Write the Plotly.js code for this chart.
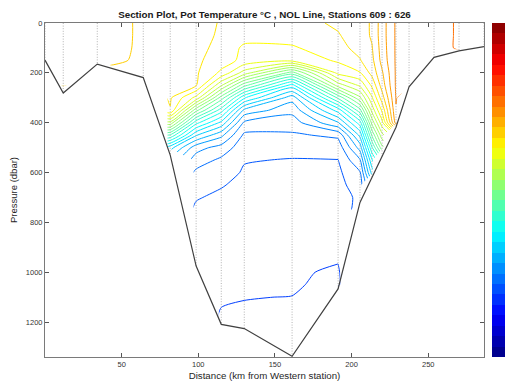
<!DOCTYPE html>
<html><head><meta charset="utf-8">
<script src="https://cdn.plot.ly/plotly-3.0.1.min.js"></script>
<style>html,body{margin:0;padding:0;background:#fff}#chart{width:505px;height:389px}</style>
</head><body><div id="chart"></div>
<script>
// Station distances (km from western station), stations 609..626
const stationIds = [609,610,611,612,613,614,615,616,617,618,619,620,621,622,623,624,625,626];
const stationKm = [0,11.9,34.1,64.1,81.7,98.6,115.0,130.0,161.2,191.2,205.5,213.3,219.9,229.0,237.5,253.8,270.1,286.4];
// Bottom pressure at each station (dbar)
const bottomDbar = [149,281,165,219,530,975,1209,1226,1337,1067,720,618,535,418,256,138,112,95];
// Pressure levels of the gridded profiles (dbar)
const pressure = [0,50,100,150,200,250,300,350,400,450,500,550,600,650,700,800,900,1000,1050,1100,1200,1250,1300];
// Potential temperature profiles (°C), one per station, down to the bottom
const t609 = [4.38,4.38,4.38];
const t610 = [4.38,4.38,4.38,4.38,4.38,4.38];
const t611 = [4.38,4.38,4.38,4.38];
const t612 = [4.341,4.341,4.34,4.335,4.33];
const t613 = [4.25,4.25,4.25,4.24,4.24,4.23,4.22,4.19,3.55,2.83,2.16];
const t614 = [4.25,4.25,4.24,4.23,4.22,4.21,3.85,3.2,2.6,2.115,1.71,1.575,1.47,1.41,1.358,1.305,1.283];
const t615 = [4.19,4.18,4.16,4.12,4.02,3.62,3.08,2.62,2.21,1.84,1.59,1.47,1.41,1.358,1.328,1.29,1.26,1.23,1.218,1.207,1.19];
const t616 = [4.15,4.11,4.02,4.01,3.68,3.05,2.42,1.91,1.62,1.47,1.41,1.358,1.335,1.32,1.305,1.275,1.245,1.223,1.212,1.2015,1.19];
const t617 = [4.15,4.12,4.03,3.95,3.08,2.34,1.86,1.695,1.575,1.478,1.395,1.343,1.32,1.305,1.29,1.275,1.245,1.215,1.208,1.199,1.19,1.185,1.18];
const t618 = [4.22,4.19,4.15,4.07,3.95,3.52,2.88,2.31,1.935,1.53,1.41,1.347,1.32,1.305,1.29,1.26,1.23,1.185,1.18];
const t619 = [4.28,4.27,4.25,4.19,4.04,3.78,3.42,2.95,2.48,2.14,1.86,1.635,1.485,1.425,1.38];
const t620 = [4.37,4.37,4.34,4.31,4.25,4.08,3.88,3.65,3.35,3.02,2.68,2.38,2.16];
const t621 = [4.58,4.58,4.57,4.55,4.48,4.42,4.28,4.08,3.85,3.55,3.25];
const t622 = [4.82,4.82,4.82,4.82,4.82,4.82,4.81,4.79,4.72];
const t623 = [4.85,4.85,4.85,4.85,4.85,4.85];
const t624 = [4.88,4.88,4.88];
const t625 = [4.97,4.97,4.97];
const t626 = [4.98,4.98];
const profiles = [t609,t610,t611,t612,t613,t614,t615,t616,t617,t618,t619,t620,t621,t622,t623,t624,t625,t626];

const titleText = 'Section Plot, Pot Temperature °C , NOL Line, Stations 609 : 626';
const xTitle = 'Distance (km from Western station)';
const yTitle = 'Pressure (dbar)';
const xTicks = [50,100,150,200,250];
const yTicks = [0,200,400,600,800,1000,1200];
const cMin = 0, cMax = 6.45, cStep = 0.15;

// ---- build ----
function jet(t){
  const c = v => Math.max(0, Math.min(1, v));
  const r = c(1.5 - Math.abs(4*t - 3)), g = c(1.5 - Math.abs(4*t - 2)), b = c(1.5 - Math.abs(4*t - 1));
  return 'rgb(' + Math.round(r*255) + ',' + Math.round(g*255) + ',' + Math.round(b*255) + ')';
}
const jetScale = [0,0.125,0.375,0.625,0.875,1].map(t => [t, jet(t)]);
const nBands = 32, bandScale = [];
for (let k = 0; k < nBands; k++) {
  const col = jet((k + 0.5) / nBands);
  bandScale.push([k / nBands, col]); bandScale.push([(k + 1) / nBands, col]);
}

// Two contour panels sharing the station at 191.2 km (keeps seabed gaps local)
function gridFor(i0, i1) {
  const prof = profiles.slice(i0, i1 + 1);
  return {x: stationKm.slice(i0, i1 + 1),
          z: pressure.map((p, j) => prof.map(pr => (j < pr.length ? pr[j] : null)))};
}
const splitIdx = 9;
const gW = gridFor(0, splitIdx), gE = gridFor(splitIdx, stationKm.length - 1);
function contourTrace(g) {
  return {type:'contour', x:g.x, y:pressure, z:g.z, connectgaps:false,
          colorscale:jetScale, showscale:false, hoverinfo:'skip',
          contours:{coloring:'lines', start:cMin, end:cMax, size:cStep},
          line:{width:1, smoothing:0.6}};
}

const dotX = [], dotY = [];
stationKm.forEach((x, i) => { dotX.push(x, x, null); dotY.push(0, bottomDbar[i], null); });

const font = 'Liberation Sans, Arial, Helvetica, sans-serif';
const data = [
  {type:'scatter', mode:'lines', x:dotX, y:dotY, hoverinfo:'skip', showlegend:false,
   line:{color:'#aaaaaa', width:0.9, dash:'1px,1.6px'}},
  contourTrace(gW),
  contourTrace(gE),
  {type:'scatter', mode:'lines', x:stationKm, y:bottomDbar, showlegend:false,
   line:{color:'#404040', width:1.2}},
  {type:'scatter', mode:'markers', x:[null], y:[null], showlegend:false, hoverinfo:'skip',
   marker:{color:[cMin], cmin:cMin, cmax:cMax, colorscale:bandScale, showscale:true,
     colorbar:{x:1.0175, xanchor:'left', xref:'paper', y:0.5, yanchor:'middle', len:1, lenmode:'fraction',
       thickness:15, thicknessmode:'pixels', xpad:0, ypad:0, outlinewidth:0, ticks:'', showticklabels:false}}}
];

const layout = {
  width:505, height:389,
  margin:{l:45, r:21, t:23, b:32, autoexpand:false},
  paper_bgcolor:'#fff', plot_bgcolor:'#fff',
  showlegend:false,
  font:{family:font, size:8, color:'#262626'},
  title:{text:titleText, x:0.5, xref:'paper', xanchor:'center', y:1-15/389, yref:'container', yanchor:'middle',
         font:{family:font, size:9.8, weight:'bold', color:'#1a1a1a'}},
  xaxis:{range:[0,286.4], tickvals:xTicks, ticks:'inside', ticklen:4, tickcolor:'#555', mirror:'ticks',
         showline:true, linecolor:'#7a7a7a', linewidth:1, showgrid:false, zeroline:false,
         tickfont:{size:7.5, color:'#333'},
         title:{text:xTitle, font:{size:9.7, color:'#262626'}, standoff:4}},
  yaxis:{range:[1340,0], tickvals:yTicks, ticks:'inside', ticklen:4, tickcolor:'#555', mirror:'ticks',
         showline:true, linecolor:'#7a7a7a', linewidth:1, showgrid:false, zeroline:false,
         tickfont:{size:7.5, color:'#333'},
         title:{text:yTitle, font:{size:9.5, color:'#262626'}, standoff:6}}
};

Plotly.newPlot('chart', data, layout, {displayModeBar:false, staticPlot:true});
</script></body></html>
